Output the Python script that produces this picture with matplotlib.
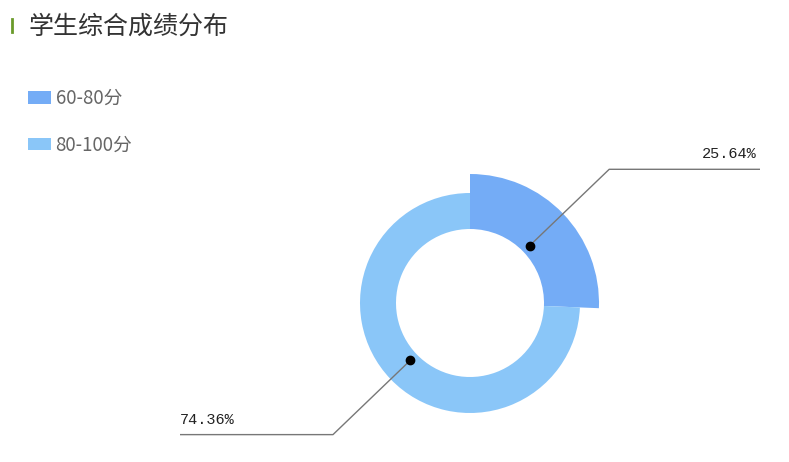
import matplotlib
matplotlib.use("Agg")
import numpy as np
import matplotlib.pyplot as plt
from matplotlib.patches import Patch

# dati: numero di studenti per fascia di punteggio
categorie = ["60-80分", "80-100分"]
valori = [10, 29]
colori = ["#74acf6", "#8ac6f8"]
titolo = "学生综合成绩分布"

W, H = 789, 462
fig = plt.figure(figsize=(W / 100, H / 100), dpi=100)
ax = fig.add_axes([0, 0, 1, 1])
ax.set_xlim(0, W)
ax.set_ylim(0, H)
ax.set_aspect("equal")
ax.axis("off")

centro = (470, H - 303)
wedges, _ = ax.pie(valori, colors=colori, radius=110, center=centro,
                   startangle=90, counterclock=False,
                   wedgeprops=dict(width=36, linewidth=0))
# la fetta selezionata sporge di piu'
wedges[0].set_radius(129)
wedges[0].set_width(55)
ax.set_xlim(0, W)
ax.set_ylim(0, H)

totale = sum(valori)
for i, w in enumerate(wedges):
    ang = np.deg2rad((w.theta1 + w.theta2) / 2)
    dx, dy = np.cos(ang), np.sin(ang)
    p0 = (centro[0] + 83 * dx, centro[1] + 83 * dy)
    r_gomito = 193 if dx > 0 else 190
    p1 = (centro[0] + r_gomito * dx, centro[1] + r_gomito * dy)
    x_fine = 760 if dx > 0 else 180
    ax.plot([p0[0], p1[0], x_fine], [p0[1], p1[1], p1[1]],
            color="#777777", lw=1, solid_capstyle="butt")
    ax.plot(p0[0], p0[1], "o", color="black", ms=6)
    pct = "%.2f%%" % (valori[i] / totale * 100)
    ax.text(x_fine - 3 if dx > 0 else x_fine, p1[1] + 8, pct,
            ha="right" if dx > 0 else "left", va="bottom",
            fontsize=11, family="Liberation Mono", color="#222222")

# titolo con barretta verde
fig.add_artist(plt.Line2D([12 / W, 12 / W], [1 - 19 / H, 1 - 32 / H],
                          color="#6a9a2a", lw=2))
fig.text(29 / W, 1 - 27 / H, titolo, fontsize=18, color="#333333",
         va="center", family=["Noto Sans CJK SC", "DejaVu Sans"])

handles = [Patch(facecolor=c, edgecolor="none") for c in colori]
leg = fig.legend(handles, categorie, loc="upper left",
                 bbox_to_anchor=(28 / W, 1 - 88 / H), frameon=False,
                 borderpad=0, borderaxespad=0, handlelength=1.2,
                 handleheight=0.65, handletextpad=0.27, labelspacing=1.36,
                 prop=dict(family=["Noto Sans CJK SC", "DejaVu Sans"], size=13.5))
for t in leg.get_texts():
    t.set_color("#666666")

fig.savefig("out.png", dpi=100)
